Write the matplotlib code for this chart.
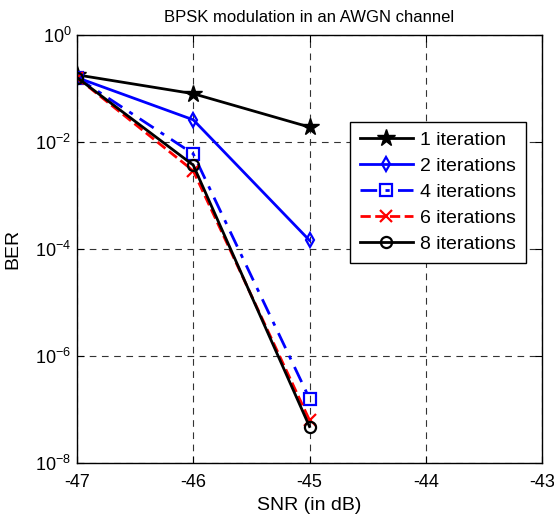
import math

import matplotlib
matplotlib.use("Agg")
import matplotlib.pyplot as plt
from matplotlib import ticker as mticker

plt.rcParams["font.family"] = ["Liberation Sans", "DejaVu Sans"]
plt.rcParams["mathtext.fontset"] = "custom"
plt.rcParams["mathtext.rm"] = "Liberation Sans"
plt.rcParams["axes.unicode_minus"] = False

snr = [-47, -46, -45]
ber_1 = [0.18, 0.08, 0.019]
ber_2 = [0.16, 0.026, 1.45e-4]
ber_4 = [0.16, 6.0e-3, 1.6e-7]
ber_6 = [0.16, 2.9e-3, 6.3e-8]
ber_8 = [0.16, 3.7e-3, 4.8e-8]
labels = ["1 iteration", "2 iterations", "4 iterations", "6 iterations", "8 iterations"]


def log_label(v, pos):
    return r"$\mathregular{10^{%d}}$" % round(math.log10(v))


fig = plt.figure(figsize=(5.54, 5.17), dpi=100)
ax = fig.add_axes([77 / 554, 1 - 463 / 517, 465 / 554, 428 / 517])

ax.semilogy(snr, ber_1, "k-", marker="*", markersize=13, linewidth=2, label=labels[0])
ax.semilogy(snr, ber_2, "b-", marker="d", markersize=7, markerfacecolor="none",
            markeredgewidth=1.6, linewidth=2, label=labels[1])
ax.semilogy(snr, ber_4, "b-.", marker="s", markersize=8, markerfacecolor="none",
            markeredgewidth=1.6, linewidth=2, dashes=(6, 3, 1.5, 3), label=labels[2])
ax.semilogy(snr, ber_6, "r--", marker="x", markersize=8, markeredgewidth=1.6,
            linewidth=2, label=labels[3])
ax.semilogy(snr, ber_8, "k-", marker="o", markersize=8, markerfacecolor="none",
            markeredgewidth=1.6, linewidth=2, label=labels[4])

ax.set_xlim(-47, -43)
ax.set_ylim(1e-8, 1e0)
ax.set_xticks([-47, -46, -45, -44, -43])
ax.set_yticks([1e-8, 1e-6, 1e-4, 1e-2, 1e0])
ax.yaxis.set_minor_locator(mticker.NullLocator())
ax.yaxis.set_major_formatter(mticker.FuncFormatter(log_label))
ax.tick_params(direction="in", labelsize=13, top=True, right=True, length=5)
ax.tick_params(axis="x", pad=8)
ax.tick_params(axis="y", pad=4)
ax.grid(True, color="#333333", linestyle=(0, (6, 5)), linewidth=0.8)
for s in ax.spines.values():
    s.set_linewidth(1.0)

ax.set_xlabel("SNR (in dB)", fontsize=14, labelpad=4)
ax.set_ylabel("BER", fontsize=14, labelpad=10)
ax.set_title("BPSK modulation in an AWGN channel", fontsize=12, pad=9)

leg = ax.legend(loc="upper right", bbox_to_anchor=(0.966, 0.797), fontsize=14,
                fancybox=False, framealpha=1, edgecolor="black",
                handlelength=2.7, handletextpad=0.4, borderpad=0.5,
                labelspacing=0.43, borderaxespad=0)
leg.get_frame().set_linewidth(1.0)

fig.savefig("out.png", dpi=100)
